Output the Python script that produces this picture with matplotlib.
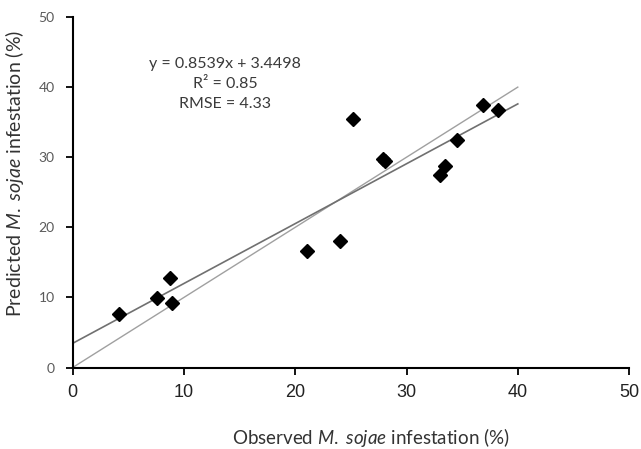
import matplotlib

matplotlib.use("Agg")

import matplotlib.pyplot as plt
import numpy as np

# observed vs predicted infestation (%)
observed = [4.2, 7.6, 8.7, 8.9, 21.1, 24.0, 25.2, 27.9, 28.1, 33.0, 33.5, 34.5, 36.9, 38.2]
predicted = [7.7, 9.9, 12.7, 9.2, 16.6, 18.1, 35.5, 29.7, 29.4, 27.4, 28.8, 32.5, 37.5, 36.7]

slope = 0.8539
intercept = 3.4498
line_x = [0, 40]
ticks = [0, 10, 20, 30, 40, 50]
stats_text = "y = 0.8539x + 3.4498\nR² = 0.85\nRMSE = 4.33"

plt.rcParams.update({
    "font.family": ["Lato", "DejaVu Sans"],
    "mathtext.fontset": "custom",
    "mathtext.rm": "Lato",
    "mathtext.it": "Lato:italic",
})

fig = plt.figure(figsize=(6.41, 4.49), dpi=100)
ax = fig.add_axes([0.1134, 0.1815, 0.868, 0.7806])

lx = np.array(line_x, dtype=float)
ax.plot(lx, lx, color="#a0a0a0", lw=1.0, zorder=2)
ax.plot(lx, slope * lx + intercept, color="#707070", lw=1.2, zorder=2)
ax.plot(observed, predicted, "D", color="black", ms=7.5, zorder=3)

ax.text(13.7, 40.5, stats_text, ha="center", va="center", fontsize=11.5,
        color="#3a3a3a", linespacing=1.55)

ax.set_xlim(0, 50)
ax.set_ylim(0, 50)
ax.set_xticks(ticks)
ax.set_yticks(ticks)
ax.set_xticklabels([str(t) for t in ticks], fontfamily="Liberation Sans",
                   fontsize=13, color="#222222")
ax.set_yticklabels([str(t) for t in ticks], fontsize=10, color="#5a5a5a")
ax.tick_params(direction="out", length=5, width=1.3, colors="black")
ax.tick_params(axis="x", pad=7)
ax.tick_params(axis="y", pad=8)
for lab in ax.get_xticklabels():
    lab.set_color("#222222")
for lab in ax.get_yticklabels():
    lab.set_color("#5a5a5a")

for side in ("top", "right"):
    ax.spines[side].set_visible(False)
for side in ("left", "bottom"):
    ax.spines[side].set_linewidth(1.5)
    ax.spines[side].set_color("black")

ax.set_xlabel(r"Observed $\mathit{M.\ sojae}$ infestation (%)", fontsize=13.5,
              color="#333333")
ax.xaxis.set_label_coords(0.536, -0.167)
ax.set_ylabel(r"Predicted $\mathit{M.\ sojae}$ infestation (%)", fontsize=14,
              color="#333333")
ax.yaxis.set_label_coords(-0.084, 0.553)

fig.savefig("out.png", dpi=100)
